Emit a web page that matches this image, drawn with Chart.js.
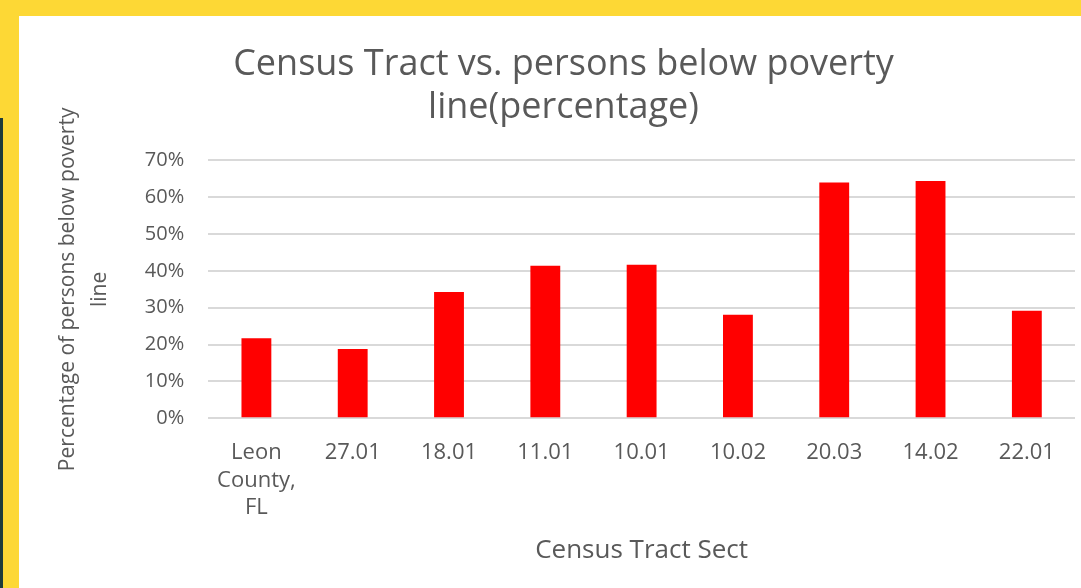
<!DOCTYPE html>
<html>
<head>
<meta charset="utf-8">
<script src="https://cdn.jsdelivr.net/npm/chart.js@4.4.0/dist/chart.umd.min.js"></script>
<style>
  html, body { margin: 0; padding: 0; background: #fdd835; overflow: hidden; width: 1081px; height: 588px; }
  #strip { position: absolute; left: 0; top: 118px; width: 3px; height: 470px; background: #1d3b3a; }
  #panel { position: absolute; left: 19px; top: 16px; width: 1086px; height: 572px; background: #fff; }
</style>
</head>
<body>
<div id="strip"></div>
<div id="panel"><canvas id="povertyChart"></canvas></div>
<script>
var tracts = [['Leon', 'County,', 'FL'], '27.01', '18.01', '11.01', '10.01', '10.02', '20.03', '14.02', '22.01'];
var belowPoverty = [0.217, 0.188, 0.343, 0.414, 0.417, 0.281, 0.640, 0.644, 0.292];

document.addEventListener("DOMContentLoaded", function() {
    var grey = '#595959';
    var font = '"Open Sans", sans-serif';
    var ctx = document.getElementById('povertyChart').getContext('2d');
    var povertyChart = new Chart(ctx, {
        type: 'bar',
        data: {
            labels: tracts,
            datasets: [{
                label: 'Persons below poverty line',
                backgroundColor: '#ff0000',
                borderWidth: 0,
                barPercentage: 0.62,
                categoryPercentage: 0.5,
                data: belowPoverty
            }]
        },
        options: {
            responsive: true,
            maintainAspectRatio: false,
            animation: false,
            layout: {
                padding: { left: 33, right: 30, top: 0, bottom: 22 }
            },
            scales: {
                x: {
                    grid: { display: false },
                    border: { display: false },
                    ticks: {
                        color: grey,
                        padding: 13,
                        maxRotation: 0,
                        autoSkip: false,
                        font: { family: font, size: 22, lineHeight: 1.25 }
                    },
                    title: {
                        display: true,
                        text: 'Census Tract Sect',
                        color: grey,
                        padding: { top: 0, bottom: 0 },
                        font: { family: font, size: 26, lineHeight: 1.2 }
                    }
                },
                y: {
                    min: 0,
                    max: 0.7,
                    grid: { color: '#d9d9d9', lineWidth: 2, drawTicks: false },
                    border: { display: false },
                    ticks: {
                        stepSize: 0.1,
                        color: grey,
                        padding: 24,
                        font: { family: font, size: 20 },
                        callback: function(v) { return Math.round(v * 100) + '%'; }
                    },
                    title: {
                        display: true,
                        text: ['Percentage of persons below poverty', 'line'],
                        color: grey,
                        padding: { top: 0, bottom: 5 },
                        font: { family: font, size: 21, lineHeight: 1.52 }
                    }
                }
            },
            plugins: {
                legend: { display: false },
                tooltip: { enabled: false },
                title: {
                    display: true,
                    text: ['Census Tract vs. persons below poverty', 'line(percentage)'],
                    color: grey,
                    padding: { top: 27, bottom: 31 },
                    font: { family: font, size: 36, weight: 'normal', lineHeight: 1.2 }
                }
            }
        }
    });
});
</script>
</body>
</html>
